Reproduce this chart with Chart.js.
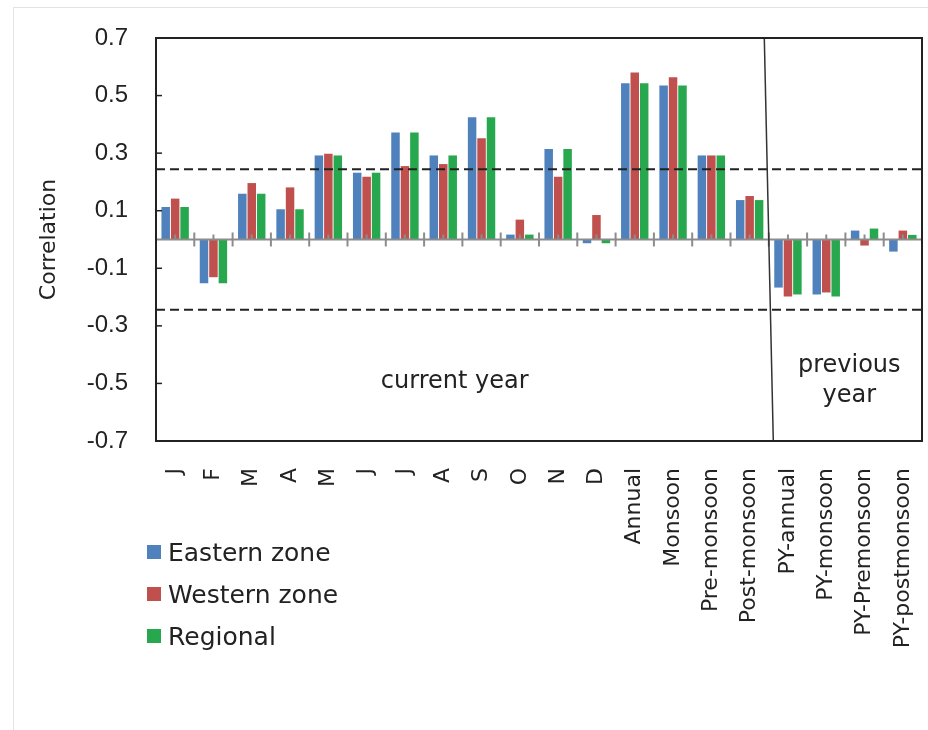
<!DOCTYPE html>
<html>
<head>
<meta charset="utf-8">
<script src="https://cdn.jsdelivr.net/npm/chart.js@4.4.1/dist/chart.umd.min.js"></script>
<style>
  body { margin: 0; background: #fff; }
  #wrap { position: relative; width: 928px; height: 730px; overflow: hidden; }
  #chart { display: block; }
  #frame { position: absolute; left: 13px; top: 7px; right: -2px; bottom: -2px;
           border-left: 1px solid #e3e3e3; border-top: 1px solid #e3e3e3; }
  #legend { position: absolute; left: 147px; top: 531px; font-family: "DejaVu Sans"; font-size: 25px; color: #222; }
  .item { height: 42px; display: flex; align-items: center; }
  .box { width: 14px; height: 14px; margin-right: 7px; }
</style>
</head>
<body>
<div id="wrap">
  <canvas id="chart" width="928" height="730"></canvas>
  <div id="frame"></div>
  <div id="legend"></div>
</div>
<script>
// data
const categories = ['J', 'F', 'M', 'A', 'M', 'J', 'J', 'A', 'S', 'O', 'N', 'D',
    'Annual', 'Monsoon', 'Pre-monsoon', 'Post-monsoon',
    'PY-annual', 'PY-monsoon', 'PY-Premonsoon', 'PY-postmonsoon']
const easternZone = [0.113, -0.152, 0.159, 0.105, 0.292, 0.232, 0.372, 0.292, 0.425, 0.017, 0.314, -0.013,
    0.543, 0.535, 0.292, 0.137, -0.167, -0.191, 0.031, -0.042]
const westernZone = [0.142, -0.131, 0.196, 0.181, 0.298, 0.218, 0.255, 0.262, 0.352, 0.069, 0.218, 0.085,
    0.580, 0.564, 0.292, 0.151, -0.198, -0.184, -0.021, 0.031]
const regional = [0.113, -0.152, 0.159, 0.105, 0.292, 0.232, 0.372, 0.292, 0.425, 0.017, 0.314, -0.013,
    0.543, 0.535, 0.292, 0.137, -0.191, -0.198, 0.038, 0.016]
const seriesNames = ['Eastern zone', 'Western zone', 'Regional']
const seriesColors = ['#4f81bd', '#c0504d', '#27a84e']
const yTicks = [-0.7, -0.5, -0.3, -0.1, 0.1, 0.3, 0.5, 0.7]
const significanceLevels = [0.244, -0.244]
const firstPreviousYear = 16

// text placed inside the plot (x in category units, y in correlation units)
const notes = [
    { text: 'current year', at: 7.3, value: -0.516 },
    { text: 'previous', at: 17.6, value: -0.462 },
    { text: 'year', at: 17.6, value: -0.566 }
]

const series = [easternZone, westernZone, regional]

// legend
const legendBox = document.querySelector('#legend')
seriesNames.forEach((name, i) => {
    legendBox.innerHTML += `<div class="item"><span class="box" style="background:${seriesColors[i]}"></span>${name}</div>`
})

// drawing on top of the bars
const overlay = {
    id: 'overlay',
    afterDatasetsDraw(chart) {
        const { ctx, chartArea: a, scales: { x, y } } = chart
        const line = (x1, y1, x2, y2) => {
            ctx.beginPath()
            ctx.moveTo(x1, y1)
            ctx.lineTo(x2, y2)
            ctx.stroke()
        }
        ctx.save()

        // significance lines
        ctx.strokeStyle = '#222'
        ctx.lineWidth = 2
        ctx.setLineDash([9, 5])
        significanceLevels.forEach(v => {
            const py = y.getPixelForValue(v)
            line(a.left, py, a.right, py)
        })
        ctx.setLineDash([])

        // zero line with category ticks
        const y0 = y.getPixelForValue(0)
        const step = x.getPixelForValue(1) - x.getPixelForValue(0)
        ctx.strokeStyle = '#8c8c8c'
        ctx.lineWidth = 2
        line(a.left, y0, a.right, y0)
        categories.forEach((c, i) => {
            const px = x.getPixelForValue(i)
            line(px - step / 2, y0 - 7, px - step / 2, y0 + 7)
            line(px, y0 - 5, px, y0)
        })

        // inner y ticks
        ctx.strokeStyle = '#222'
        ctx.lineWidth = 1.5
        yTicks.forEach(v => {
            const py = y.getPixelForValue(v)
            line(a.left, py, a.left + 6, py)
        })

        // divider between current and previous year
        const bx = (x.getPixelForValue(firstPreviousYear - 1) + x.getPixelForValue(firstPreviousYear)) / 2
        ctx.strokeStyle = '#333'
        ctx.lineWidth = 1.5
        line(bx - 4.5, a.top, bx + 4.5, a.bottom)

        // frame
        ctx.strokeStyle = '#222'
        ctx.lineWidth = 2
        ctx.strokeRect(a.left, a.top, a.right - a.left, a.bottom - a.top)

        // notes
        ctx.fillStyle = '#222'
        ctx.font = '24px "DejaVu Sans"'
        ctx.textAlign = 'center'
        ctx.textBaseline = 'alphabetic'
        notes.forEach(n => ctx.fillText(n.text, x.getPixelForValue(n.at), y.getPixelForValue(n.value)))

        ctx.restore()
    }
}

const data = {
    labels: categories,
    datasets: series.map((values, i) => ({
        label: seriesNames[i],
        data: values,
        backgroundColor: seriesColors[i],
        borderWidth: 0,
        categoryPercentage: 0.74,
        barPercentage: 0.9
    }))
}

const config = {
    type: 'bar',
    data: data,
    options: {
        responsive: false,
        animation: false,
        devicePixelRatio: 1,
        layout: { padding: { top: 38, right: 6, left: 0, bottom: 0 } },
        plugins: { legend: { display: false }, tooltip: { enabled: false } },
        scales: {
            x: {
                grid: { display: false, drawTicks: false },
                border: { display: false },
                ticks: {
                    autoSkip: false,
                    minRotation: 90,
                    maxRotation: 90,
                    padding: 27,
                    color: '#222',
                    font: { family: 'DejaVu Sans', size: 22 }
                },
                afterFit: s => {
                    s.height = 289
                    s.paddingLeft = 0
                    s.paddingRight = 0
                }
            },
            y: {
                min: -0.7,
                max: 0.7,
                grid: { display: false, drawTicks: false },
                border: { display: false },
                afterBuildTicks: s => { s.ticks = yTicks.map(v => ({ value: v })) },
                ticks: {
                    padding: 28,
                    color: '#222',
                    font: { family: 'Liberation Sans', size: 24 },
                    callback: v => v.toFixed(1)
                },
                title: {
                    display: true,
                    text: 'Correlation',
                    color: '#222',
                    font: { family: 'DejaVu Sans', size: 22 },
                    padding: { top: 36, bottom: 0 }
                },
                afterFit: s => {
                    s.width = 156
                    s.paddingTop = 0
                    s.paddingBottom = 0
                }
            }
        }
    },
    plugins: [overlay]
}

const correlationChart = new Chart(document.getElementById('chart'), config)
</script>
</body>
</html>
